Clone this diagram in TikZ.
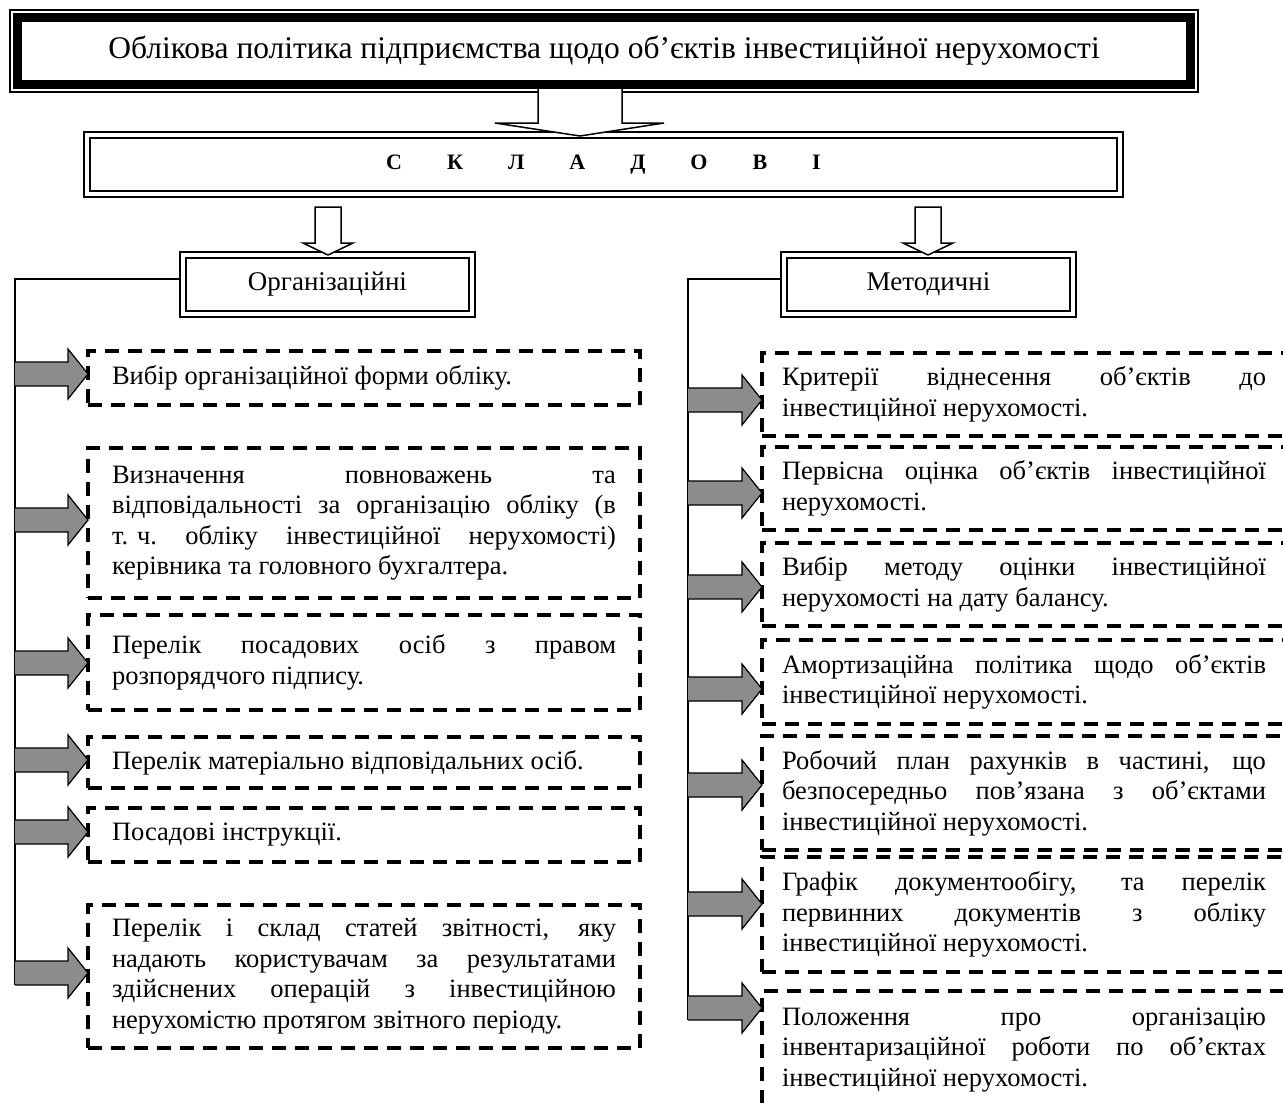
\documentclass[tikz,border=0pt]{standalone}
\usepackage{fontspec}
\setmainfont{Liberation Serif}
\usetikzlibrary{calc}
\definecolor{feedgray}{RGB}{140,140,140}
\hyphenpenalty=10000
\exhyphenpenalty=10000
\tolerance=10000
% outer thin frame around a double-framed box
\newcommand\outerframe[2]{%
  \draw[line width=1.5pt] ([shift={(-#2,#2)}]#1.north west) rectangle ([shift={(#2,-#2)}]#1.south east);}
% grey block arrow from a bus line (x = #1) to the left side of node #2 at height #3
\newcommand\feedarrow[3]{%
  \path (#2.west |- 0,#3) coordinate (tip);
  \filldraw[feed] (#1,#3-12) -- ($(tip)+(-20,-12)$) -- ($(tip)+(-20,-25)$) -- (tip)
     -- ($(tip)+(-20,25)$) -- ($(tip)+(-20,12)$) -- (#1,#3+12);}
\begin{document}
\begin{tikzpicture}[x=1pt,y=-1pt,
  every node/.style={inner sep=0pt, outer sep=0pt},
  bodytext/.style={font=\fontsize{26.5}{30.5}\selectfont},
  itembox/.style={bodytext, draw, line width=3.5pt, dash pattern=on 14pt off 9pt,
     anchor=north west, align=justify, inner ysep=0pt},
  leftbox/.style={itembox, text width=504pt, inner xsep=24pt},
  rightbox/.style={itembox, text width=484pt, inner xsep=20pt},
  groupbox/.style={draw, line width=2.6pt, minimum width=283pt, minimum height=53pt,
     font=\fontsize{27}{33}\selectfont},
  feed/.style={fill=feedgray, draw=black, line width=1.2pt, line join=miter},
  hollow/.style={fill=white, draw=black, line width=1.5pt, line join=miter},
  bus/.style={draw=black, line width=1.5pt}]
\useasboundingbox (0,0) rectangle (1283,1103);
\clip (0,0) rectangle (1283,1103);

% heading
\node[draw, line width=9pt, minimum width=1173pt, minimum height=67pt,
      font=\fontsize{31.5}{38}\selectfont] (title) at (604,51)
  {Облікова політика підприємства щодо об’єктів інвестиційної нерухомості};
\outerframe{title}{7.5pt}

% components bar
\node[draw, line width=2.6pt, minimum width=1027pt, minimum height=53pt,
      font=\bfseries\fontsize{22}{26}\selectfont] (parts) at (603.5,164.5)
  {С\hspace{45pt}К\hspace{45pt}Л\hspace{45pt}А\hspace{45pt}Д\hspace{45pt}О\hspace{45pt}В\hspace{45pt}І};
\outerframe{parts}{6pt}

% arrow from the heading to the components bar
\coordinate (bigtip) at (580,136);
\filldraw[hollow] (538,89) -- (538,123) -- (495,123) -- (bigtip) -- (664,123) -- (622,123) -- (622,89);

% two groups
\node[groupbox] (org) at (327.5,284.5) {Організаційні};
\outerframe{org}{6pt}
\node[groupbox] (meth) at (928.5,284.5) {Методичні};
\outerframe{meth}{6pt}

\filldraw[hollow] (315,207) -- (341,207) -- (341,243) -- (353,243) -- (328,255) -- (303,243) -- (315,243) -- cycle;
\filldraw[hollow] (915,207) -- (941,207) -- (941,243) -- (953,243) -- (928,255) -- (903,243) -- (915,243) -- cycle;

% organisational items
\node[leftbox, minimum height=54pt] (l1) at (88,351) {Вибір організаційної форми обліку.};
\node[leftbox, minimum height=150pt] (l2) at (88,448)
  {Визначення повноважень та \linebreak відповідальності за організацію обліку (в \linebreak \mbox{т. ч.} обліку інвестиційної нерухомості) \linebreak керівника та головного бухгалтера.};
\node[leftbox, minimum height=95pt] (l3) at (88,615)
  {Перелік посадових осіб з правом \linebreak розпорядчого підпису.};
\node[leftbox, minimum height=51pt] (l4) at (88,737) {Перелік матеріально відповідальних осіб.};
\node[leftbox, minimum height=54pt] (l5) at (88,808) {Посадові інструкції.};
\node[leftbox, minimum height=143pt] (l6) at (88,905)
  {Перелік і склад статей звітності, яку \linebreak надають користувачам за результатами \linebreak здійснених операцій з інвестиційною \linebreak нерухомістю протягом звітного періоду.};

% methodical items
\node[rightbox, minimum height=83pt] (r1) at (762,353)
  {Критерії віднесення об’єктів до \linebreak інвестиційної нерухомості.};
\node[rightbox, minimum height=83pt] (r2) at (762,447)
  {Первісна оцінка об’єктів інвестиційної \linebreak нерухомості.};
\node[rightbox, minimum height=83pt] (r3) at (762,543)
  {Вибір методу оцінки інвестиційної \linebreak нерухомості на дату балансу.};
\node[rightbox, minimum height=84pt] (r4) at (762,640)
  {Амортизаційна політика щодо об’єктів \linebreak інвестиційної нерухомості.};
\node[rightbox, minimum height=114pt] (r5) at (762,736)
  {Робочий план рахунків в частині, що \linebreak безпосередньо пов’язана з об’єктами \linebreak інвестиційної нерухомості.};
\node[rightbox, minimum height=115pt] (r6) at (762,857)
  {Графік документообігу, та перелік \linebreak первинних документів з обліку \linebreak інвестиційної нерухомості.};
\node[rightbox, minimum height=118pt] (r7) at (762,991)
  {Положення про організацію \linebreak інвентаризаційної роботи по об’єктах \linebreak інвестиційної нерухомості.};

% bus lines
\coordinate (lbusend) at (15,985);
\coordinate (rbusend) at (688,1020);
\draw[bus] ([xshift=-6pt,yshift=5.5pt]org.west) -| (lbusend);
\draw[bus] ([xshift=-6pt,yshift=5.5pt]meth.west) -| (rbusend);

% feeding arrows
\feedarrow{15}{l1}{374}
\feedarrow{15}{l2}{520}
\feedarrow{15}{l3}{663}
\feedarrow{15}{l4}{760}
\feedarrow{15}{l5}{832}
\feedarrow{15}{l6}{973}
\feedarrow{688}{r1}{400}
\feedarrow{688}{r2}{493}
\feedarrow{688}{r3}{587}
\feedarrow{688}{r4}{689}
\feedarrow{688}{r5}{785}
\feedarrow{688}{r6}{904}
\feedarrow{688}{r7}{1008}
\end{tikzpicture}
\end{document}
